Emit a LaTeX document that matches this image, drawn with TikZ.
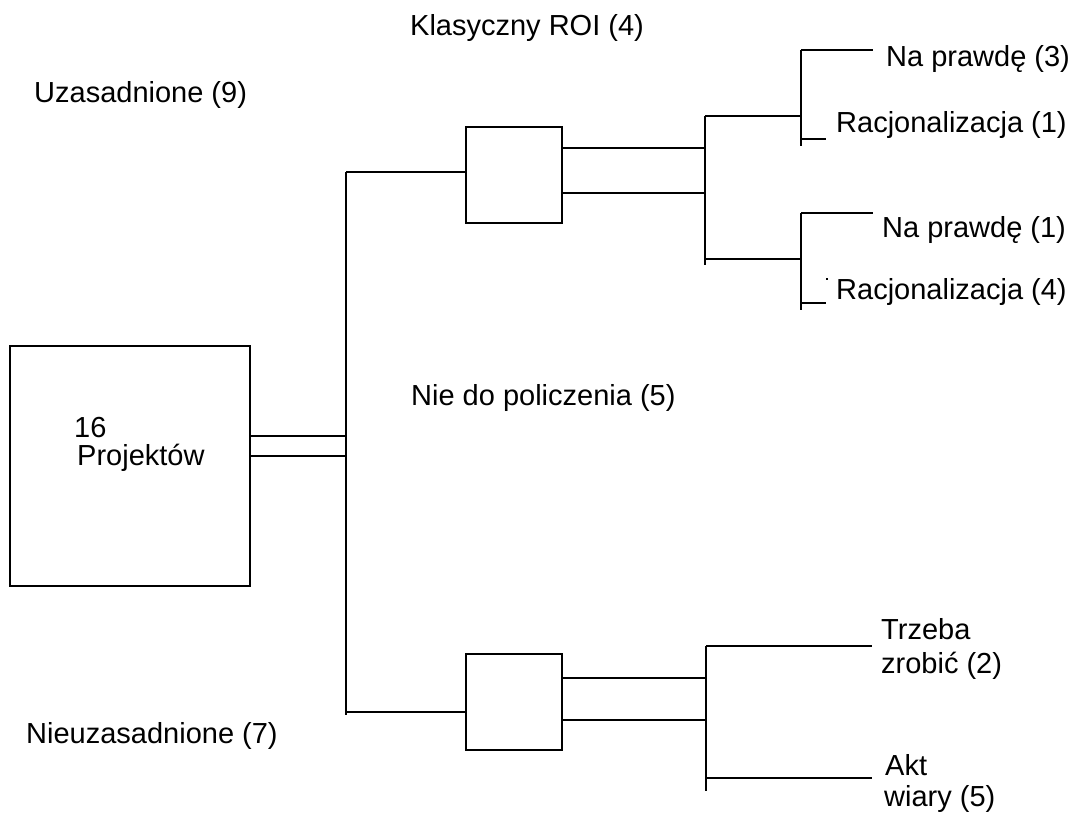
\documentclass[tikz,border=0pt]{standalone}
\usepackage{fontspec}
\setmainfont{Liberation Sans}
\begin{document}
\begin{tikzpicture}[x=1pt,y=-1pt,
  wire/.style={line width=1.8pt},
  box/.style={draw, line width=1.8pt, inner sep=0pt, minimum width=96pt, minimum height=96pt},
  lbl/.style={anchor=base west, inner sep=0pt, font=\fontsize{29}{35}\selectfont}]
\useasboundingbox (0,0) rectangle (1074,813);
% boxes
\node[box, minimum width=240pt, minimum height=240pt] (main) at (130,466) {};
\node[box] (ub) at (514,175) {};
\node[box] (lb) at (514,702) {};
% main junction
\coordinate (v0t) at (346,172);
\coordinate (v0b) at (346,715);
\coordinate (m1) at (346,436);
\coordinate (m2) at (346,456);
\coordinate (m3) at (346,712);
\draw[wire] (v0t) -- (v0b);
\draw[wire] (main.east |- m1) -- (m1);
\draw[wire] (main.east |- m2) -- (m2);
\draw[wire] (v0t) -- (ub.west |- v0t);
\draw[wire] (m3) -- (lb.west |- m3);
% upper fork
\coordinate (v1t) at (705,116);
\coordinate (v1b) at (705,265);
\coordinate (u1) at (705,148);
\coordinate (u2) at (705,193);
\draw[wire] (v1t) -- (v1b);
\draw[wire] (ub.east |- u1) -- (u1);
\draw[wire] (ub.east |- u2) -- (u2);
\coordinate (v2t) at (801,50);
\coordinate (v2b) at (801,146);
\coordinate (v3t) at (801,213);
\coordinate (v3b) at (801,310);
\draw[wire] (v1t) -- (v1t -| v2t);
\draw[wire] (705,259) -- (801,259);
\draw[wire] (v2t) -- (v2b);
\draw[wire] (v3t) -- (v3b);
\coordinate (e1) at (873,50);
\coordinate (e2) at (826,139);
\coordinate (e3) at (873,213);
\coordinate (e4) at (826,303);
\draw[wire] (v2t) -- (e1);
\draw[wire] (v2t |- e2) -- (e2);
\draw[wire] (v3t) -- (e3);
\draw[wire] (v3t |- e4) -- (e4);
\fill (826.2,278.2) rectangle (827.8,279.8);
% lower fork
\coordinate (v4t) at (706,646);
\coordinate (v4b) at (706,791);
\coordinate (l1) at (706,678);
\coordinate (l2) at (706,720);
\draw[wire] (v4t) -- (v4b);
\draw[wire] (lb.east |- l1) -- (l1);
\draw[wire] (lb.east |- l2) -- (l2);
\coordinate (e5) at (872,646);
\coordinate (e6) at (872,778);
\draw[wire] (v4t) -- (e5);
\draw[wire] (v4t |- e6) -- (e6);
% labels
\node[lbl] (t1) at (410,36) {Klasyczny ROI (4)};
\node[lbl] (t2) at (34,103) {Uzasadnione (9)};
\node[lbl] (t3) at (411,405) {Nie do policzenia (5)};
\node[lbl] (t4) at (26,743) {Nieuzasadnione (7)};
\node[lbl] (t5) at (74,437) {16};
\node[lbl] (t6) at (77,465) {Projektów};
\node[lbl] (t7) at (886,67) {Na prawdę (3)};
\node[lbl] (t8) at (836,133) {Racjonalizacja (1)};
\node[lbl] (t9) at (882,238) {Na prawdę (1)};
\node[lbl] (t10) at (836,299) {Racjonalizacja (4)};
\node[lbl] (t11) at (881,639) {Trzeba};
\node[lbl] (t12) at (881,673) {zrobić (2)};
\node[lbl] (t13) at (885,775) {Akt};
\node[lbl] (t14) at (884,806) {wiary (5)};
\end{tikzpicture}
\end{document}
